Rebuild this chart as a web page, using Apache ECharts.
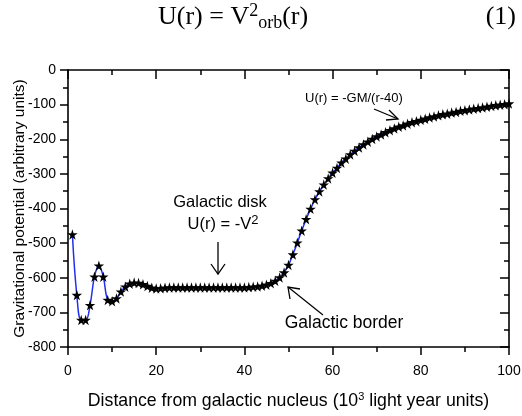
<!DOCTYPE html>
<html>
<head>
<meta charset="utf-8">
<script src="https://cdn.jsdelivr.net/npm/echarts@6/dist/echarts.min.js"></script>
<style>
html,body{margin:0;padding:0;background:#fff;}
#chart{width:522px;height:416px;}
</style>
</head>
<body>
<div id="chart"></div>
<script>
// Distance from galactic nucleus (10^3 light years)
var distance = [1,2,3,4,5,6,7,8,9,10,11,12,13,14,15,16,17,18,19,20,
  21,22,23,24,25,26,27,28,29,30,31,32,33,34,35,36,37,38,39,40,
  41,42,43,44,45,46,47,48,49,50,51,52,53,54,55,56,57,58,59,60,
  61,62,63,64,65,66,67,68,69,70,71,72,73,74,75,76,77,78,79,80,
  81,82,83,84,85,86,87,88,89,90,91,92,93,94,95,96,97,98,99,100];
// Gravitational potential (arbitrary units)
var potential = [-475,-650,-722,-722,-679,-597,-565,-597,-664,-668,-660,-640,-626,-617,-614,-615,-619,-624,-629,-631,
  -630,-629,-628,-628,-628,-628,-628,-628,-628,-628,-628,-628,-628,-628,-628,-628,-628,-628,-628,-628,
  -627,-626,-625,-623,-620,-616,-609,-599,-585,-563,-533,-499,-464,-431,-401,-374,-351,-331,-313,-297,
  -283,-268,-256,-244,-234,-224,-215,-207,-199,-192,-186,-180,-174,-169,-164,-160,-155,-151,-148,-144,
  -141,-137,-134,-131,-128,-126,-123,-121,-118,-116,-114,-112,-110,-108,-106,-104,-102,-100,-99,-97];

var FONT = '"Liberation Sans", Arial, sans-serif';
var SERIF = '"Liberation Serif", "Times New Roman", serif';
var star = 'path://M50,0 L61,35 L98,35 L68,57 L79,91 L50,70 L21,91 L32,57 L2,35 L39,35 Z';

var pts = distance.map(function(d,i){return [d, potential[i]];});

var chart = echarts.init(document.getElementById('chart'), null, {renderer:'canvas'});
function axLine(){ return {show:true, onZero:false, lineStyle:{color:'#000', width:1.6}}; }
function tick(inside, len){ return {show:true, inside:inside, length:len, lineStyle:{color:'#000', width:1.5}}; }
function mtick(len){ return {show:true, splitNumber:2, length:len, lineStyle:{color:'#000', width:1.5}}; }
var option = {
  animation:false,
  backgroundColor:'#fff',
  grid:{left:68, right:13, top:70, bottom:69, containLabel:false, outerBoundsMode:'none'},
  xAxis:[{
    type:'value', min:0, max:100, interval:20, position:'bottom',
    axisLine:axLine(), axisTick:tick(false,8), minorTick:mtick(5),
    splitLine:{show:false}, minorSplitLine:{show:false},
    axisLabel:{margin:17, color:'#000', fontFamily:FONT, fontSize:14},
    name:'Distance from galactic nucleus (10{sup|3} light year units)',
    nameLocation:'middle', nameGap:44, nameMoveOverlap:false,
    nameTextStyle:{color:'#000', fontFamily:FONT, fontSize:17.7,
      rich:{sup:{fontSize:11, verticalAlign:'top', padding:[0,0,9,0], fontFamily:FONT, color:'#000'}}}
  },{
    type:'value', min:0, max:100, interval:20, position:'top',
    axisLine:axLine(), axisTick:tick(true,9), minorTick:mtick(5),
    splitLine:{show:false}, axisLabel:{show:false}
  }],
  yAxis:[{
    type:'value', min:-800, max:0, interval:100, position:'left',
    axisLine:axLine(), axisTick:tick(false,8), minorTick:mtick(5),
    splitLine:{show:false}, minorSplitLine:{show:false},
    axisLabel:{margin:12, color:'#000', fontFamily:FONT, fontSize:14},
    name:'Gravitational potential (arbitrary units)',
    nameLocation:'middle', nameGap:40, nameMoveOverlap:false,
    nameTextStyle:{color:'#000', fontFamily:FONT, fontSize:15.5}
  },{
    type:'value', min:-800, max:0, interval:100, position:'right',
    axisLine:axLine(), axisTick:tick(true,9), minorTick:mtick(5),
    splitLine:{show:false}, axisLabel:{show:false}
  }],
  series:[{
    type:'line', xAxisIndex:0, yAxisIndex:0, data:pts,
    smooth:0.4,
    lineStyle:{color:'#1f2ff0', width:1.5},
    symbol:star, symbolSize:10.5,
    itemStyle:{color:'#000', borderWidth:0},
    z:3
  }],
  graphic:[
    {type:'text', left:158, top:2, style:{
      text:'U(r) = V{sup|2}{sub|orb}(r)', font:'26px '+SERIF, fill:'#000',
      rich:{sup:{font:'18px '+SERIF, verticalAlign:'top', padding:[0,0,12,0], fill:'#000'},
            sub:{font:'18px '+SERIF, verticalAlign:'bottom', padding:[10,0,0,0], fill:'#000'}}
    }},
    {type:'text', right:6, top:4, style:{text:'(1)', font:'26px '+SERIF, fill:'#000'}},
    // annotations
    {type:'text', x:305, y:92, style:{text:'U(r) = -GM/(r-40)', font:'13px '+FONT, fill:'#000'}},
    {type:'line', shape:{x1:374, y1:109, x2:398, y2:119}, style:{stroke:'#000', lineWidth:1.3}},
    {type:'polyline', shape:{points:[[389,110],[398,119],[386,120]]}, style:{stroke:'#000', lineWidth:1.3, fill:null}},
    {type:'text', x:220, y:194, style:{text:'Galactic disk', font:'16.5px '+FONT, fill:'#000', align:'center'}},
    {type:'text', x:223, y:214, style:{text:'U(r) = -V{sup|2}', font:'16.5px '+FONT, fill:'#000', align:'center',
      rich:{sup:{font:'13px '+FONT, verticalAlign:'top', padding:[0,0,8,0], fill:'#000'}}}},
    {type:'line', shape:{x1:218, y1:242, x2:218, y2:274}, style:{stroke:'#000', lineWidth:1.3}},
    {type:'polyline', shape:{points:[[211,264],[218,274],[225,264]]}, style:{stroke:'#000', lineWidth:1.3, fill:null}},
    {type:'text', x:344, y:314, style:{text:'Galactic border', font:'17.5px '+FONT, fill:'#000', align:'center'}},
    {type:'line', shape:{x1:323, y1:315, x2:288, y2:287}, style:{stroke:'#000', lineWidth:1.3}},
    {type:'polyline', shape:{points:[[290,299],[288,287],[300,289]]}, style:{stroke:'#000', lineWidth:1.3, fill:null}}
  ]
};
chart.setOption(option);
</script>
</body>
</html>
